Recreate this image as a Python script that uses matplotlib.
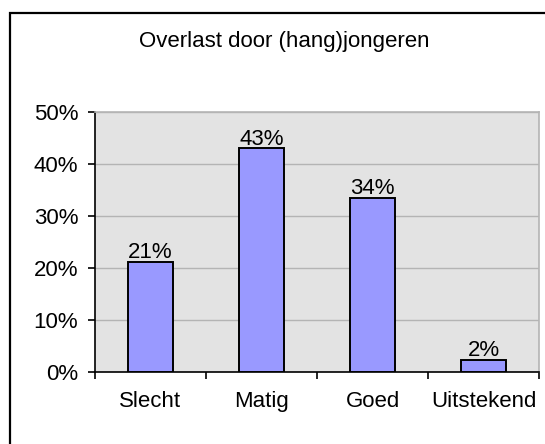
import matplotlib.pyplot as plt
from matplotlib.patches import Rectangle
from matplotlib.ticker import FixedLocator

categories = ["Slecht", "Matig", "Goed", "Uitstekend"]
values = [21.2, 43.0, 33.5, 2.3]
value_labels = ["21%", "43%", "34%", "2%"]
y_ticks = [0, 10, 20, 30, 40, 50]
y_tick_labels = ["0%", "10%", "20%", "30%", "40%", "50%"]
title = "Overlast door (hang)jongeren"

plt.rcParams['font.family'] = ['Liberation Sans', 'DejaVu Sans']
fs = 16

fig = plt.figure(figsize=(5.45, 4.44), dpi=100)
fig.patch.set_facecolor('white')

# outer chart border (right and bottom edges fall outside the image)
frame = Rectangle((10 / 545, -0.2), 1.2, (444 - 13) / 444 + 0.2,
                  transform=fig.transFigure, fill=False,
                  edgecolor='black', linewidth=1.6, zorder=0)
fig.patches.append(frame)

fig.text(284 / 545, (444 - 42) / 444, title, ha='center', va='center',
         fontsize=fs)

ax = fig.add_axes([95 / 545, (444 - 372) / 444, (539 - 95) / 545, (372 - 112) / 444])
ax.set_facecolor('#e3e3e3')

x = list(range(len(categories)))
bars = ax.bar(x, values, width=0.41, color='#9999FF', edgecolor='black',
              linewidth=1.4, zorder=3)

for b, lab in zip(bars, value_labels):
    ax.annotate(lab, (b.get_x() + b.get_width() / 2, b.get_height()),
                xytext=(0, -1), textcoords='offset points',
                ha='center', va='bottom', fontsize=fs)

ax.set_xlim(-0.5, len(categories) - 0.5)
ax.set_ylim(0, 50)
ax.set_yticks(y_ticks)
ax.set_yticklabels(y_tick_labels)
ax.yaxis.grid(True, color='#b4b4b4', linewidth=1.0, zorder=1)
ax.set_axisbelow(True)

ax.set_xticks(x)
ax.set_xticklabels(categories)
ax.xaxis.set_minor_locator(FixedLocator([i - 0.5 for i in range(len(categories) + 1)]))
ax.tick_params(axis='x', which='major', length=0, pad=14, labelsize=fs)
ax.tick_params(axis='x', which='minor', length=5, width=1.2, direction='out')
ax.tick_params(axis='y', length=5, width=1.2, direction='out', pad=7, labelsize=fs)

for side in ['top', 'right']:
    ax.spines[side].set_color('#b4b4b4')
    ax.spines[side].set_linewidth(1.2)
for side in ['left', 'bottom']:
    ax.spines[side].set_color('black')
    ax.spines[side].set_linewidth(1.2)

fig.savefig('out.png', dpi=100)
